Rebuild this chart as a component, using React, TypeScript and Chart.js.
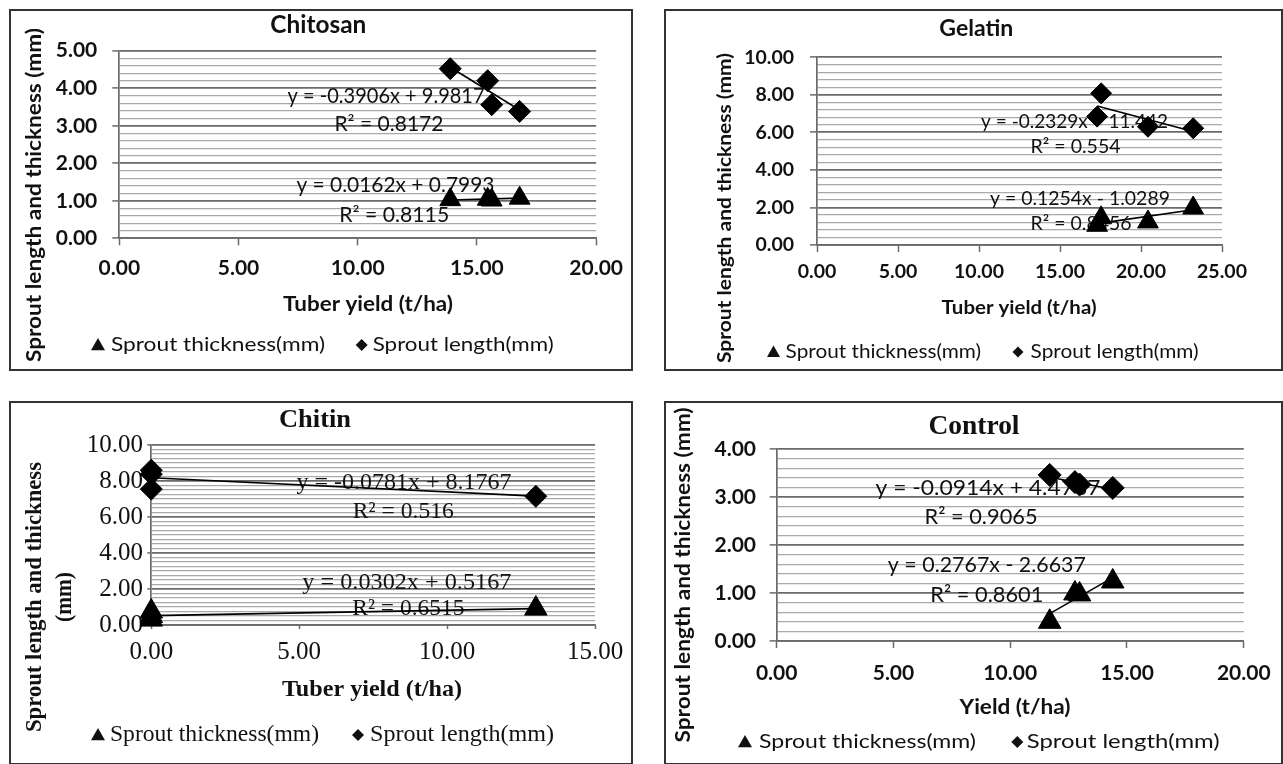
import React, { useEffect, useRef } from "react";
import { Chart, registerables } from "chart.js";

Chart.register(...registerables);

const SANS = "Lato, 'Noto Sans', sans-serif";
const SERIF = "'Liberation Serif', 'DejaVu Serif', serif";
const INK = "#111111";
const MAJOR = "#6a6a6a";
const MINOR = "#a9a9a9";

const legendLabels = ["Sprout thickness(mm)", "Sprout length(mm)"];
const yAxisTitle = "Sprout length and thickness (mm)";

// ---- Chitosan ----
const chitosanYield = [13.88, 15.45, 15.62, 16.79];
const chitosanLength = [4.52, 4.2, 3.56, 3.38];
const chitosanThickness = [1.03, 1.04, 1.02, 1.07];
const chitosanLengthFit = [4.56, 3.42];
const chitosanThicknessFit = [1.02, 1.07];
const chitosanEquations = ["y = -0.3906x + 9.9817", "R² = 0.8172", "y = 0.0162x + 0.7993", "R² = 0.8115"];

// ---- Gelatin ----
const gelatinYield = [17.29, 17.54, 20.43, 23.22];
const gelatinLength = [6.84, 8.08, 6.3, 6.22];
const gelatinThickness = [1.05, 1.45, 1.23, 1.97];
const gelatinLengthFit = [7.41, 6.05];
const gelatinThicknessFit = [1.14, 1.88];
const gelatinEquations = ["y = -0.2329x + 11.442", "R² = 0.554", "y = 0.1254x - 1.0289", "R² = 0.8456"];

// ---- Chitin ----
const chitinYield = [0, 0, 0, 13.0];
const chitinLength = [8.6, 8.38, 7.55, 7.15];
const chitinThickness = [0.75, 0.3, 0.5, 0.91];
const chitinLengthFit = [8.18, 7.16];
const chitinThicknessFit = [0.52, 0.91];
const chitinEquations = ["y = -0.0781x + 8.1767", "R² = 0.516", "y = 0.0302x + 0.5167", "R² = 0.6515"];

// ---- Control ----
const controlYield = [11.69, 12.77, 12.97, 14.39];
const controlLength = [3.46, 3.31, 3.26, 3.19];
const controlThickness = [0.4, 0.99, 0.97, 1.24];
const controlLengthFit = [3.41, 3.16];
const controlThicknessFit = [0.57, 1.32];
const controlEquations = ["y = -0.0914x + 4.4787", "R² = 0.9065", "y = 0.2767x - 2.6637", "R² = 0.8601"];

type Txt = { text: string; x: number; y: number; w: number };

type PanelCfg = {
  left: number; top: number; w: number; h: number;
  padTop: number; padRight: number; yW: number; xH: number;
  xMax: number; xStep: number; yMax: number; yMinor: number; yMajor: number;
  tickLen: number; yTickPad: number; xTickPad: number;
  tickFont: { family: string; size: number; weight: string };
  titleFont: string; title: Txt;
  xTitleFont: string; xTitle: Txt;
  yTitleFont: string; yTitle: Txt[];
  legendFont: string; legendY: number; legTri: number; legDia: number; legTriSize: number; legDiaSize: number;
  legText: Txt[];
  eqFont: string; eqs: Txt[];
  triR: number; diaR: number;
  yields: number[]; length: number[]; thickness: number[]; lengthFit: number[]; thicknessFit: number[];
};

const panels: PanelCfg[] = [
  {
    left: 9, top: 9, w: 624, h: 362,
    padTop: 41.7, padRight: 36, yW: 110.3, xH: 132.7,
    xMax: 20, xStep: 5, yMax: 5, yMinor: 0.2, yMajor: 1,
    tickLen: 7, yTickPad: 15, xTickPad: 10,
    tickFont: { family: SANS, size: 21, weight: "bold" },
    titleFont: `bold 24px ${SANS}`, title: { text: "Chitosan", x: 309.3, y: 16.5, w: 96 },
    xTitleFont: `bold 20.5px ${SANS}`, xTitle: { text: "Tuber yield (t/ha)", x: 359, y: 295, w: 170 },
    yTitleFont: `bold 20.5px ${SANS}`, yTitle: [{ text: yAxisTitle, x: 25, y: 186, w: 334 }],
    legendFont: `19.5px ${SANS}`, legendY: 336, legTri: 89, legDia: 352.7, legTriSize: 7, legDiaSize: 6,
    legText: [
      { text: legendLabels[0], x: 102, y: 336, w: 214 },
      { text: legendLabels[1], x: 363.7, y: 336, w: 181 },
    ],
    eqFont: `20.5px ${SANS}`,
    eqs: [
      { text: chitosanEquations[0], x: 11.19, y: 3.78, w: 197 },
      { text: chitosanEquations[1], x: 11.31, y: 3.03, w: 109 },
      { text: chitosanEquations[2], x: 11.58, y: 1.42, w: 198 },
      { text: chitosanEquations[3], x: 11.53, y: 0.62, w: 110 },
    ],
    triR: 12, diaR: 11,
    yields: chitosanYield, length: chitosanLength, thickness: chitosanThickness, lengthFit: chitosanLengthFit, thicknessFit: chitosanThicknessFit,
  },
  {
    left: 664, top: 9, w: 619, h: 362,
    padTop: 48.3, padRight: 61, yW: 153, xH: 126,
    xMax: 25, xStep: 5, yMax: 10, yMinor: 0.4, yMajor: 2,
    tickLen: 7, yTickPad: 16, xTickPad: 8.4,
    tickFont: { family: SANS, size: 19.5, weight: "bold" },
    titleFont: `bold 23px ${SANS}`, title: { text: "Gelatin", x: 312.3, y: 20, w: 74 },
    xTitleFont: `bold 19.5px ${SANS}`, xTitle: { text: "Tuber yield (t/ha)", x: 355, y: 299, w: 155 },
    yTitleFont: `bold 19.5px ${SANS}`, yTitle: [{ text: yAxisTitle, x: 61, y: 199, w: 310 }],
    legendFont: `18.5px ${SANS}`, legendY: 343, legTri: 109.5, legDia: 354, legTriSize: 6.5, legDiaSize: 5.5,
    legText: [
      { text: legendLabels[0], x: 121.6, y: 343, w: 195.5 },
      { text: legendLabels[1], x: 366.6, y: 343, w: 168 },
    ],
    eqFont: `19.5px ${SANS}`,
    eqs: [
      { text: gelatinEquations[0], x: 15.9, y: 6.57, w: 187 },
      { text: gelatinEquations[1], x: 15.96, y: 5.24, w: 90 },
      { text: gelatinEquations[2], x: 16.23, y: 2.45, w: 180 },
      { text: gelatinEquations[3], x: 16.3, y: 1.12, w: 101 },
    ],
    triR: 12, diaR: 10.5,
    yields: gelatinYield, length: gelatinLength, thickness: gelatinThickness, lengthFit: gelatinLengthFit, thicknessFit: gelatinThicknessFit,
  },
  {
    left: 9, top: 401, w: 624, h: 364,
    padTop: 44, padRight: 38, yW: 142.3, xH: 140,
    xMax: 15, xStep: 5, yMax: 10, yMinor: 0.25, yMajor: 2,
    tickLen: 4, yTickPad: 4.3, xTickPad: 8.4,
    tickFont: { family: SERIF, size: 25, weight: "normal" },
    titleFont: `bold 26px ${SERIF}`, title: { text: "Chitin", x: 306, y: 19, w: 72 },
    xTitleFont: `bold 24px ${SERIF}`, xTitle: { text: "Tuber yield (t/ha)", x: 363, y: 289, w: 180 },
    yTitleFont: `bold 23px ${SERIF}`,
    yTitle: [
      { text: "Sprout length and thickness", x: 26, y: 196, w: 270 },
      { text: "(mm)", x: 56, y: 196, w: 50 },
    ],
    legendFont: `23px ${SERIF}`, legendY: 334, legTri: 89, legDia: 349, legTriSize: 7, legDiaSize: 6,
    legText: [
      { text: legendLabels[0], x: 101, y: 334, w: 209 },
      { text: legendLabels[1], x: 361, y: 334, w: 184 },
    ],
    eqFont: `23px ${SERIF}`,
    eqs: [
      { text: chitinEquations[0], x: 8.54, y: 7.87, w: 215 },
      { text: chitinEquations[1], x: 8.52, y: 6.3, w: 101 },
      { text: chitinEquations[2], x: 8.64, y: 2.35, w: 209 },
      { text: chitinEquations[3], x: 8.69, y: 0.87, w: 112 },
    ],
    triR: 13, diaR: 11,
    yields: chitinYield, length: chitinLength, thickness: chitinThickness, lengthFit: chitinLengthFit, thicknessFit: chitinThicknessFit,
  },
  {
    left: 664, top: 401, w: 619, h: 364,
    padTop: 48, padRight: 32.6, yW: 112.7, xH: 124,
    xMax: 20, xStep: 5, yMax: 4, yMinor: 0.2, yMajor: 1,
    tickLen: 7, yTickPad: 13.7, xTickPad: 12.4,
    tickFont: { family: SANS, size: 21, weight: "bold" },
    titleFont: `bold 27px ${SERIF}`, title: { text: "Control", x: 310, y: 26, w: 91 },
    xTitleFont: `bold 21px ${SANS}`, xTitle: { text: "Yield (t/ha)", x: 351, y: 306, w: 111 },
    yTitleFont: `bold 21px ${SANS}`, yTitle: [{ text: yAxisTitle, x: 19, y: 174, w: 335 }],
    legendFont: `20px ${SANS}`, legendY: 341, legTri: 81, legDia: 353.3, legTriSize: 7, legDiaSize: 6,
    legText: [
      { text: legendLabels[0], x: 95, y: 341, w: 217 },
      { text: legendLabels[1], x: 362.7, y: 341, w: 193 },
    ],
    eqFont: `21.5px ${SANS}`,
    eqs: [
      { text: controlEquations[0], x: 9.05, y: 3.18, w: 225 },
      { text: controlEquations[1], x: 8.75, y: 2.59, w: 113 },
      { text: controlEquations[2], x: 9.0, y: 1.58, w: 198 },
      { text: controlEquations[3], x: 9.0, y: 0.96, w: 113 },
    ],
    triR: 13, diaR: 11.5,
    yields: controlYield, length: controlLength, thickness: controlThickness, lengthFit: controlLengthFit, thicknessFit: controlThicknessFit,
  },
];

function isMajor(v: number, major: number) {
  const r = v / major;
  return Math.abs(r - Math.round(r)) < 1e-6;
}

// draw text stretched horizontally to a measured target width
function drawFit(ctx: CanvasRenderingContext2D, text: string, x: number, y: number, w: number, align: CanvasTextAlign, rotate = false) {
  const m = ctx.measureText(text).width || 1;
  ctx.save();
  ctx.translate(x, y);
  if (rotate) ctx.rotate(-Math.PI / 2);
  ctx.scale(w / m, 1);
  ctx.textAlign = align;
  ctx.textBaseline = "middle";
  ctx.fillText(text, 0, 0);
  ctx.restore();
}

function makeDecor(cfg: PanelCfg) {
  return {
    id: "decor",
    beforeDatasetsDraw(chart: any) {
      const ctx = chart.ctx as CanvasRenderingContext2D;
      const xs = chart.scales.x;
      const ys = chart.scales.y;
      ctx.save();
      ctx.fillStyle = INK;
      ctx.font = cfg.eqFont;
      cfg.eqs.forEach((e) => {
        drawFit(ctx, e.text, xs.getPixelForValue(e.x), ys.getPixelForValue(e.y), e.w, "center");
      });
      ctx.restore();
    },
    afterDraw(chart: any) {
      const ctx = chart.ctx as CanvasRenderingContext2D;
      ctx.save();
      ctx.fillStyle = INK;
      ctx.font = cfg.titleFont;
      drawFit(ctx, cfg.title.text, cfg.title.x, cfg.title.y, cfg.title.w, "center");
      ctx.font = cfg.xTitleFont;
      drawFit(ctx, cfg.xTitle.text, cfg.xTitle.x, cfg.xTitle.y, cfg.xTitle.w, "center");
      ctx.font = cfg.yTitleFont;
      cfg.yTitle.forEach((t) => drawFit(ctx, t.text, t.x, t.y, t.w, "center", true));
      // legend
      ctx.font = cfg.legendFont;
      const ly = cfg.legendY;
      const t = cfg.legTriSize;
      ctx.beginPath();
      ctx.moveTo(cfg.legTri, ly - t);
      ctx.lineTo(cfg.legTri + t, ly + t * 0.75);
      ctx.lineTo(cfg.legTri - t, ly + t * 0.75);
      ctx.closePath();
      ctx.fill();
      const d = cfg.legDiaSize;
      ctx.beginPath();
      ctx.moveTo(cfg.legDia, ly - d);
      ctx.lineTo(cfg.legDia + d, ly);
      ctx.lineTo(cfg.legDia, ly + d);
      ctx.lineTo(cfg.legDia - d, ly);
      ctx.closePath();
      ctx.fill();
      cfg.legText.forEach((lt) => drawFit(ctx, lt.text, lt.x, lt.y, lt.w, "left"));
      ctx.restore();
    },
  };
}

function pts(xs: number[], ys: number[]) {
  return xs.map((x, i) => ({ x, y: ys[i] }));
}

function fitLine(xs: number[], fit: number[]) {
  return [
    { x: Math.min(...xs), y: fit[0] },
    { x: Math.max(...xs), y: fit[1] },
  ];
}

function Panel({ cfg }: { cfg: PanelCfg }) {
  const ref = useRef<HTMLCanvasElement>(null);
  useEffect(() => {
    const canvas = ref.current;
    if (!canvas) return;
    const chart = new Chart(canvas, {
      type: "scatter",
      data: {
        datasets: [
          {
            type: "line",
            label: "fit-thickness",
            data: fitLine(cfg.yields, cfg.thicknessFit),
            borderColor: "#000",
            borderWidth: 1.6,
            pointRadius: 0,
            fill: false,
            clip: false,
          } as any,
          {
            type: "line",
            label: "fit-length",
            data: fitLine(cfg.yields, cfg.lengthFit),
            borderColor: "#000",
            borderWidth: 1.6,
            pointRadius: 0,
            fill: false,
            clip: false,
          } as any,
          {
            label: legendLabels[0],
            data: pts(cfg.yields, cfg.thickness),
            pointStyle: "triangle",
            pointRadius: cfg.triR,
            backgroundColor: "#000",
            borderColor: "#000",
            borderWidth: 1,
            clip: false,
          } as any,
          {
            label: legendLabels[1],
            data: pts(cfg.yields, cfg.length),
            pointStyle: "rectRot",
            pointRadius: cfg.diaR,
            backgroundColor: "#000",
            borderColor: "#000",
            borderWidth: 1,
            clip: false,
          } as any,
        ],
      },
      options: {
        animation: false,
        responsive: false,
        maintainAspectRatio: false,
        devicePixelRatio: 1,
        layout: { padding: { left: 0, top: cfg.padTop, right: cfg.padRight, bottom: 0 } },
        plugins: {
          legend: { display: false },
          title: { display: false },
          tooltip: { enabled: false },
        },
        scales: {
          x: {
            type: "linear",
            min: 0,
            max: cfg.xMax,
            afterFit: (s: any) => {
              s.height = cfg.xH;
            },
            ticks: {
              stepSize: cfg.xStep,
              autoSkip: false,
              maxRotation: 0,
              color: INK,
              font: cfg.tickFont as any,
              padding: cfg.xTickPad,
              callback: (v: any) => Number(v).toFixed(2),
            },
            grid: {
              drawOnChartArea: false,
              drawTicks: true,
              tickLength: cfg.tickLen,
              tickColor: MAJOR,
              tickWidth: 1.5,
            },
            border: { display: true, color: MAJOR, width: 1.7 },
          },
          y: {
            type: "linear",
            min: 0,
            max: cfg.yMax,
            afterFit: (s: any) => {
              s.width = cfg.yW;
            },
            ticks: {
              stepSize: cfg.yMinor,
              autoSkip: false,
              color: INK,
              font: cfg.tickFont as any,
              padding: cfg.yTickPad,
              callback: (v: any) => (isMajor(Number(v), cfg.yMajor) ? Number(v).toFixed(2) : ""),
            },
            grid: {
              drawTicks: true,
              tickLength: cfg.tickLen,
              color: (c: any) => (isMajor(c.tick?.value ?? 0, cfg.yMajor) ? MAJOR : MINOR),
              lineWidth: (c: any) => (isMajor(c.tick?.value ?? 0, cfg.yMajor) ? 1.8 : 1.3),
              tickColor: (c: any) => (isMajor(c.tick?.value ?? 0, cfg.yMajor) ? MAJOR : "rgba(0,0,0,0)"),
              tickWidth: 1.5,
            },
            border: { display: true, color: MAJOR, width: 1.7 },
          },
        },
      },
      plugins: [makeDecor(cfg)],
    });
    return () => chart.destroy();
  }, [cfg]);

  return (
    <>
      <canvas
        ref={ref}
        width={cfg.w}
        height={cfg.h}
        style={{ position: "absolute", left: cfg.left, top: cfg.top, width: cfg.w, height: cfg.h }}
      />
      <div
        style={{
          position: "absolute",
          left: cfg.left,
          top: cfg.top,
          width: cfg.w,
          height: cfg.h,
          boxSizing: "border-box",
          border: "2px solid #333",
          pointerEvents: "none",
        }}
      />
    </>
  );
}

export default function App() {
  return (
    <div style={{ position: "absolute", left: 0, top: 0, width: 1283, height: 764, overflow: "hidden", background: "#fff" }}>
      {panels.map((p, i) => (
        <Panel key={i} cfg={p} />
      ))}
    </div>
  );
}
